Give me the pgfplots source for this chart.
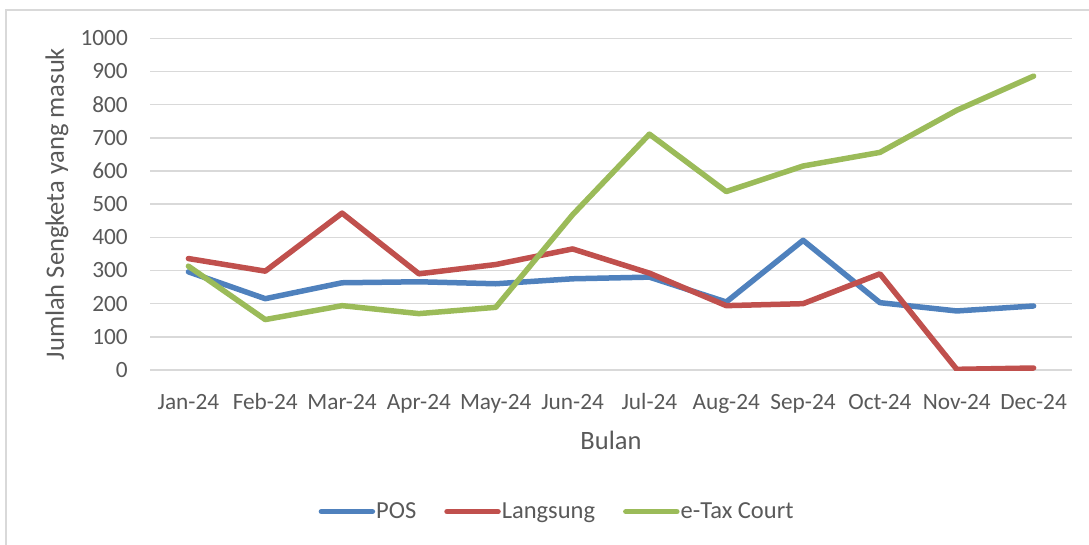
\documentclass[border=0pt]{standalone}
\usepackage{pgfplots}
\pgfplotsset{compat=1.18}
\usepackage{fontspec}
\setmainfont{Carlito}
\definecolor{txt}{HTML}{595959}
\definecolor{gridc}{HTML}{D9D9D9}
\definecolor{cpos}{HTML}{4F81BD}
\definecolor{clang}{HTML}{C0504D}
\definecolor{ctax}{HTML}{9BBB59}
\begin{document}
\begin{tikzpicture}[x=1pt,y=1pt]
\useasboundingbox (0,0) rectangle (1089,544);
\draw[gridc, line width=1.5pt] (6,-2) -- (6,534) -- (1091,534);
\begin{axis}[
  at={(150pt,174pt)}, anchor=south west, scale only axis,
  width=922pt, height=331.7pt,
  xmin=-0.5, xmax=11.5, ymin=0, ymax=1000,
  xtick={0,...,11},
  xticklabels={Jan-24,Feb-24,Mar-24,Apr-24,May-24,Jun-24,Jul-24,Aug-24,Sep-24,Oct-24,Nov-24,Dec-24},
  ytick={0,100,...,1000},
  axis line style={draw=none},
  major tick length=0pt,
  ymajorgrids, grid style={gridc, line width=1.5pt},
  /pgf/number format/assume math mode=true,
  /pgf/number format/set thousands separator={},
  tick label style={font=\fontsize{23.3}{27}\selectfont, text=txt},
  xticklabel style={anchor=base, yshift=-39pt},
  yticklabel style={anchor=east, inner sep=0pt, xshift=-22pt},
  xlabel={Bulan}, ylabel={Jumlah Sengketa yang masuk},
  label style={font=\fontsize{26.5}{30}\selectfont, text=txt},
  xlabel style={at={(axis description cs:0.5,-0.211)}, anchor=center},
  ylabel style={at={(axis description cs:-0.101,0.5)}, anchor=center},
  legend columns=3,
  legend style={draw=none, fill=none, at={(axis description cs:0.441,-0.427)}, anchor=center,
    font=\fontsize{24.5}{28}\selectfont, text=txt,
    /tikz/every even column/.append style={column sep=27pt},
    inner sep=0pt, nodes={inner sep=1pt}},
  legend image code/.code={\draw[#1, line width=5.5pt, line cap=round] (2.5pt,0pt) -- (53.5pt,0pt);},
  every axis plot/.append style={line width=5.5pt, line join=round, line cap=round},
]
\addplot[cpos] coordinates {(0,296) (1,215) (2,263) (3,266) (4,260) (5,275) (6,280) (7,205) (8,391) (9,203) (10,178) (11,193)};
\addlegendentry{POS}
\addplot[clang] coordinates {(0,336) (1,298) (2,473) (3,290) (4,318) (5,365) (6,292) (7,194) (8,200) (9,290) (10,2) (11,6)};
\addlegendentry{Langsung}
\addplot[ctax] coordinates {(0,313) (1,152) (2,194) (3,170) (4,189) (5,468) (6,711) (7,538) (8,615) (9,656) (10,783) (11,886)};
\addlegendentry{e-Tax Court}
\end{axis}
\end{tikzpicture}
\end{document}
